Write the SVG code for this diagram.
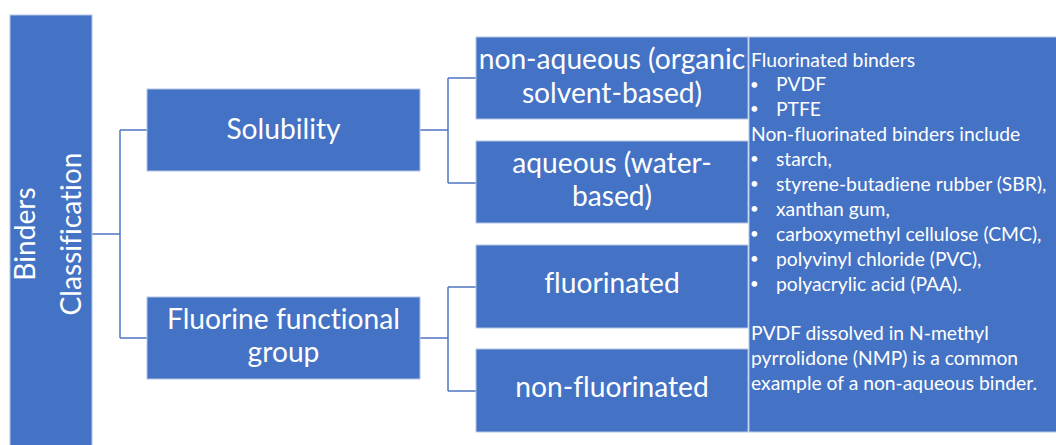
<svg xmlns="http://www.w3.org/2000/svg" width="1056" height="445" viewBox="0 0 1056 445">
  <style>
    .box { fill: #4472C4; stroke: #b4c6e7; stroke-width: 1; }
    .lbl { font-family: Lato, "Open Sans", sans-serif; font-size: 28.2px; fill: #ffffff; text-anchor: middle; font-variant-ligatures: none; }
    .note { font-family: Lato, "Open Sans", sans-serif; font-size: 19.3px; fill: #ffffff; font-variant-ligatures: none; }
    .dot { font-family: Lato, "Open Sans", sans-serif; font-size: 15px; fill: #ffffff; }
    .wire { fill: none; stroke: #4f76c2; stroke-width: 1.5; }
  </style>

  <!-- connectors -->
  <g id="connectors">
    <path class="wire" d="M92,234 H120 M120,130 V338 M120,130 H147 M120,338 H147"/>
    <path class="wire" d="M420,130 H448 M448,78 V183 M448,78 H476 M448,183 H476"/>
    <path class="wire" d="M420,338 H448 M448,287 V391 M448,287 H476 M448,391 H476"/>
  </g>

  <!-- root -->
  <g id="root">
    <rect class="box" x="10" y="15" width="82" height="440"/>
    <text class="lbl" transform="translate(35,234) rotate(-90)">Binders</text>
    <text class="lbl" transform="translate(81,234) rotate(-90)">Classification</text>
  </g>

  <g id="solubility">
    <rect class="box" x="147" y="89" width="273" height="82"/>
    <text class="lbl" x="283.5" y="139">Solubility</text>
  </g>

  <g id="fluorine-group">
    <rect class="box" x="147" y="297" width="273" height="82"/>
    <text class="lbl" x="283.5" y="329">Fluorine functional</text>
    <text class="lbl" x="283.5" y="362">group</text>
  </g>

  <g id="non-aqueous">
    <rect class="box" x="476" y="37" width="272" height="82"/>
    <text class="lbl" x="612" y="69">non-aqueous (organic</text>
    <text class="lbl" x="612" y="102.5">solvent-based)</text>
  </g>

  <g id="aqueous">
    <rect class="box" x="476" y="141" width="272" height="82"/>
    <text class="lbl" x="612" y="173">aqueous (water-</text>
    <text class="lbl" x="612" y="205.5">based)</text>
  </g>

  <g id="fluorinated">
    <rect class="box" x="476" y="245" width="272" height="83"/>
    <text class="lbl" x="612" y="293">fluorinated</text>
  </g>

  <g id="non-fluorinated">
    <rect class="box" x="476" y="349" width="272" height="83"/>
    <text class="lbl" x="612" y="397">non-fluorinated</text>
  </g>

  <!-- notes panel -->
  <g id="notes">
    <rect class="box" x="749" y="37" width="320" height="395"/>
    <text class="note" x="751" y="66.5">Fluorinated binders</text>
    <text class="dot" x="750" y="89.5">•</text><text class="note" x="776" y="91.4">PVDF</text>
    <text class="dot" x="750" y="114.4">•</text><text class="note" x="776" y="116.3">PTFE</text>
    <text class="note" x="751" y="141.2">Non-fluorinated binders include</text>
    <text class="dot" x="750" y="164.2">•</text><text class="note" x="776" y="166.1">starch,</text>
    <text class="dot" x="750" y="189.1">•</text><text class="note" x="776" y="191">styrene-butadiene rubber (SBR),</text>
    <text class="dot" x="750" y="214">•</text><text class="note" x="776" y="215.9">xanthan gum,</text>
    <text class="dot" x="750" y="238.9">•</text><text class="note" x="776" y="240.8">carboxymethyl cellulose (CMC),</text>
    <text class="dot" x="750" y="263.8">•</text><text class="note" x="776" y="265.7">polyvinyl chloride (PVC),</text>
    <text class="dot" x="750" y="288.7">•</text><text class="note" x="776" y="290.6">polyacrylic acid (PAA).</text>
    <text class="note" x="751" y="340.4">PVDF dissolved in N-methyl</text>
    <text class="note" x="751" y="365.3">pyrrolidone (NMP) is a common</text>
    <text class="note" x="751" y="390.2">example of a non-aqueous binder.</text>
  </g>
</svg>
